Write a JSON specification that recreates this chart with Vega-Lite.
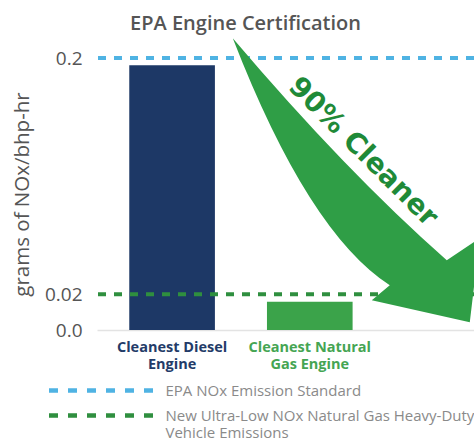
{
  "$schema": "https://vega.github.io/schema/vega-lite/v6.json",
  "width": 377,
  "height": 272,
  "autosize": {"type": "none"},
  "padding": {"left": 97, "top": 58, "right": 0, "bottom": 109},
  "background": "white",
  "config": {"view": {"stroke": null}, "font": "Open Sans"},
  "title": {"text": "EPA Engine Certification", "frame": "group", "anchor": "middle", "dx": -40, "fontSize": 20, "fontWeight": 600, "color": "#555555", "font": "Open Sans", "offset": 4},
  "layer": [
    {
      "data": {"values": [
        {"engine": "Cleanest Diesel Engine", "nox": 0.194},
        {"engine": "Cleanest Natural Gas Engine", "nox": 0.0153}
      ]},
      "mark": {"type": "bar"},
      "encoding": {
        "x": {"field": "engine", "type": "nominal", "sort": null, "title": null,
          "scale": {"domain": ["Cleanest Diesel Engine", "Cleanest Natural Gas Engine"], "paddingInner": 0.378, "paddingOuter": 0.558, "align": 0.21},
          "axis": {"labelAngle": 0, "ticks": false, "grid": false, "domain": true, "domainColor": "#e3e3e3", "domainWidth": 1.5,
            "labelPadding": 10, "labelFont": "Open Sans", "labelFontSize": 14.5, "labelFontWeight": "bold", "labelLineHeight": 17,
            "labelExpr": "datum.value == 'Cleanest Diesel Engine' ? ['Cleanest Diesel', 'Engine'] : ['Cleanest Natural', 'Gas Engine']",
            "labelColor": {"condition": {"test": "datum.value == 'Cleanest Diesel Engine'", "value": "#233b68"}, "value": "#45a553"}}},
        "y": {"field": "nox", "type": "quantitative", "title": "grams of NOx/bhp-hr",
          "scale": {"type": "pow", "exponent": 0.88, "domain": [0, 0.2], "nice": false, "zero": true},
          "axis": {"values": [0, 0.02, 0.2], "labelExpr": "datum.value == 0 ? '0.0' : (datum.value > 0.1 ? '0.2' : '0.02')", "ticks": false, "domain": false, "grid": false,
            "labelPadding": 15, "labelFont": "Open Sans", "labelFontSize": 19, "labelColor": "#555555",
            "titleFont": "Open Sans", "titleFontSize": 20.5, "titleFontWeight": "normal", "titleColor": "#555555", "titlePadding": 12}},
        "fill": {"field": "engine", "type": "nominal", "legend": null,
          "scale": {"domain": ["Cleanest Diesel Engine", "Cleanest Natural Gas Engine"], "range": ["#1d3866", "#3ba34a"]}}
      }
    },
    {
      "data": {"values": [
        {"standard": "EPA NOx Emission Standard", "value": 0.2},
        {"standard": "New Ultra-Low NOx Natural Gas Heavy-Duty Vehicle Emissions", "value": 0.02}
      ]},
      "mark": {"type": "rule", "strokeDash": [8, 8], "strokeWidth": 4},
      "encoding": {
        "y": {"field": "value", "type": "quantitative", "title": "grams of NOx/bhp-hr"},
        "stroke": {"field": "standard", "type": "nominal", "sort": null,
          "scale": {"domain": ["EPA NOx Emission Standard", "New Ultra-Low NOx Natural Gas Heavy-Duty Vehicle Emissions"], "range": ["#4fb3e3", "#2f8f3f"]},
          "legend": {"orient": "none", "legendX": -0.5, "legendY": 325, "title": null, "padding": 0, "rowPadding": 6,
            "symbolType": "M -55 0 L 55 0", "symbolSize": 4, "symbolStrokeWidth": 4.5, "symbolDash": [9, 10],
            "labelOffset": 54, "labelFont": "Open Sans", "labelFontSize": 15, "labelColor": "#8a8a8a", "labelLimit": 400, "labelBaseline": "middle",
            "labelExpr": "datum.value == 'New Ultra-Low NOx Natural Gas Heavy-Duty Vehicle Emissions' ? ['New Ultra-Low NOx Natural Gas Heavy-Duty', 'Vehicle Emissions'] : datum.label",
            "encode": {"labels": {"update": {"lineHeight": {"value": 17}}}}}}
      }
    },
    {
      "data": {"values": [{"label": "90% Cleaner"}]},
      "mark": {"type": "point", "shape": "M -77 -144 Q 36 -11 137 78 L 170 56 L 160 140 L 62 118 L 80 103 Q -1.5 50.5 -77 -144 Z", "size": 4, "filled": true, "fill": "#2f9e46", "opacity": 1, "strokeWidth": 0},
      "encoding": {
        "x": {"datum": "Cleanest Natural Gas Engine", "type": "nominal", "title": null},
        "y": {"datum": 0.1, "type": "quantitative", "title": "grams of NOx/bhp-hr"}
      }
    },
    {
      "data": {"values": [{"label": "90% Cleaner"}]},
      "mark": {"type": "text", "angle": 45, "dx": 37.5, "dy": -37.5, "align": "center", "baseline": "middle", "font": "DejaVu Sans", "fontWeight": "bold", "fontSize": 28, "fill": "#1f8a38"},
      "encoding": {
        "x": {"datum": "Cleanest Natural Gas Engine", "type": "nominal", "title": null},
        "y": {"datum": 0.1234, "type": "quantitative", "title": "grams of NOx/bhp-hr"},
        "text": {"field": "label", "type": "nominal"}
      }
    }
  ]
}
